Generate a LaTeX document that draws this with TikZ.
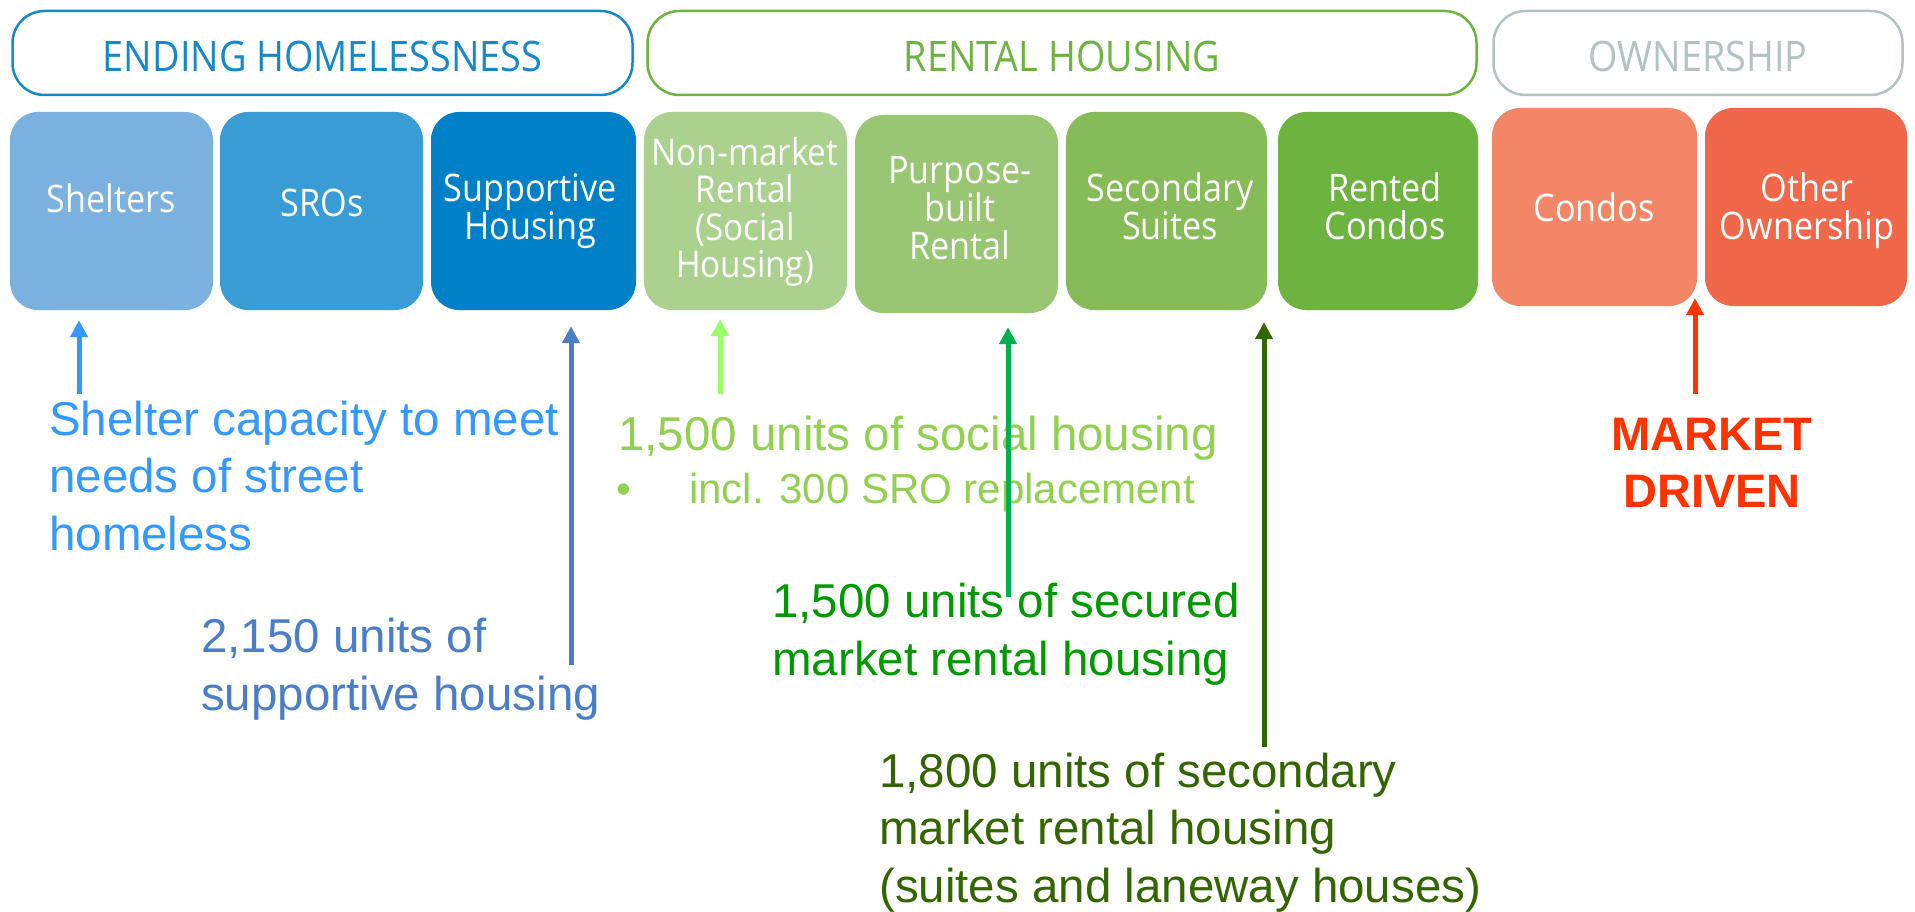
\documentclass[tikz,border=0pt]{standalone}
\usepackage{fontspec}
\setmainfont{Liberation Sans}
\newfontfamily\labelfont[FakeStretch=0.9]{Open Sans}
\usetikzlibrary{arrows.meta}

% group headers
\definecolor{hdBlue}{HTML}{1588CC}
\definecolor{hdGreen}{HTML}{6DB33F}
\definecolor{hdGray}{HTML}{B3C2C4}
% housing type cells
\definecolor{cShelter}{HTML}{7AB1DE}
\definecolor{cSro}{HTML}{3A9CD5}
\definecolor{cSupport}{HTML}{0080C6}
\definecolor{cNonMarket}{HTML}{ABD18F}
\definecolor{cPurpose}{HTML}{98C673}
\definecolor{cSecondary}{HTML}{86BC57}
\definecolor{cRented}{HTML}{6DB33F}
\definecolor{cCondo}{HTML}{F38667}
\definecolor{cOther}{HTML}{F0674A}
% targets and their pointers
\definecolor{tShelter}{HTML}{3399FF}
\definecolor{tSupport}{HTML}{4A7FC8}
\definecolor{aSocial}{HTML}{99FF66}
\definecolor{tSocial}{HTML}{92D050}
\definecolor{aSecured}{HTML}{00B050}
\definecolor{tSecured}{HTML}{009900}
\definecolor{tSecondary}{HTML}{336600}
\definecolor{tMarket}{HTML}{FF3300}

\begin{document}
\begin{tikzpicture}[x=1pt, y=-1pt,
  header/.style={draw, line width=2.5pt, rounded corners=32pt, fill=white,
    inner sep=0pt, minimum height=84pt, text height=38pt, text depth=0pt,
    font=\labelfont\fontsize{42}{42}\selectfont},
  cell/.style={rounded corners=28pt, inner sep=0pt, minimum height=198pt},
  % multi-line texts are placed by the baseline of their last line
  celltext/.style={anchor=base, align=center, text=white, inner sep=0pt,
    font=\labelfont\fontsize{38}{38}\selectfont},
  note/.style={anchor=base west, align=left, inner sep=0pt,
    font=\fontsize{47.5}{57.5}\selectfont},
  pointer/.style={line width=5pt, -{Triangle[width=17pt,length=17pt]}},
]
\useasboundingbox[fill=white] (0,0) rectangle (1915,912);

% ---- group headers ----
\node[header, draw=hdBlue, text=hdBlue, minimum width=620pt] (endHome) at (322.5,53) {ENDING HOMELESSNESS};
\node[header, draw=hdGreen, text=hdGreen, minimum width=829pt] (rental) at (1062,53) {RENTAL HOUSING};
\node[header, draw=hdGray, text=hdGray, minimum width=409pt] (owner) at (1698,53) {OWNERSHIP};

% ---- housing type cells ----
\node[cell, fill=cShelter,   minimum width=203pt] (shelters)  at (111.5,211) {};
\node[cell, fill=cSro,       minimum width=203pt] (sros)      at (321.5,211) {};
\node[cell, fill=cSupport,   minimum width=205pt] (support)   at (533.5,211) {};
\node[cell, fill=cNonMarket, minimum width=203pt] (nonMarket) at (745.5,211) {};
\node[cell, fill=cPurpose,   minimum width=203pt] (purpose)   at (956.5,214) {};
\node[cell, fill=cSecondary, minimum width=201pt] (secondary) at (1166.5,211) {};
\node[cell, fill=cRented,    minimum width=200pt] (rented)    at (1378,211) {};
\node[cell, fill=cCondo,     minimum width=205pt] (condos)    at (1594.5,207) {};
\node[cell, fill=cOther,     minimum width=202pt] (other)     at (1806,207) {};

\node[celltext] (sheltersText)  at (111,213)  {Shelters};
\node[celltext] (srosText)      at (322,217)  {SROs};
\node[celltext] (supportText)   at (530,240)  {Supportive\\Housing};
\node[celltext, font=\labelfont\fontsize{37}{37.5}\selectfont] (nonMarketText) at (745,278) {Non-market\\Rental\\(Social\\Housing)};
\node[celltext] (purposeText)   at (960,260)  {Purpose-\\built\\Rental};
\node[celltext] (secondaryText) at (1170,240) {Secondary\\Suites};
\node[celltext] (rentedText)    at (1385,240) {Rented\\Condos};
\node[celltext] (condosText)    at (1594,222) {Condos};
\node[celltext] (otherText)     at (1807,240) {Other\\Ownership};

% ---- targets ----
\node[note, text=tShelter] (shelterNote) at (49,550)
  {Shelter capacity to meet\\needs of street\\homeless};
\node[note, text=tSupport] (supportNote) at (201,710)
  {2,150 units of\\supportive housing};
\node[note, text=tSocial] (socialNote) at (618,450)
  {1,500 units of social housing};
\node[anchor=base west, inner sep=0pt, text=tSocial,
  font=\fontsize{42}{42}\selectfont] (socialSub) at (616,503)
  {\makebox[73pt][l]{\textbullet}incl. 300 SRO replacement};
\node[note, text=tSecured] (securedNote) at (772,675)
  {1,500 units of secured\\market rental housing};
\node[note, text=tSecondary] (secondaryNote) at (879,902)
  {1,800 units of secondary\\market rental housing\\(suites and laneway houses)};
\node[note, anchor=base, align=center, text=tMarket,
  font=\bfseries\fontsize{47}{57}\selectfont] (marketNote) at (1712,507)
  {MARKET\\DRIVEN};

% ---- pointers from targets up to the cells ----
\coordinate (shelterTail)   at (79,394);
\coordinate (supportTail)   at (571,665);
\coordinate (socialTail)    at (720,394);
\coordinate (securedTail)   at (1008,597);
\coordinate (secondaryTail) at (1264,747);
\coordinate (marketTail)    at (1695,394);

\draw[pointer, tShelter, shorten >=10pt]  (shelterTail) -- (shelterTail |- shelters.south);
\draw[pointer, tSupport, shorten >=16pt]  (supportTail) -- (supportTail |- support.south);
\draw[pointer, aSocial, shorten >=9pt]    (socialTail) -- (socialTail |- nonMarket.south);
\draw[pointer, aSecured, shorten >=14pt]  (securedTail) -- (securedTail |- purpose.south);
\draw[pointer, tSecondary, shorten >=12pt] (secondaryTail) -- (secondaryTail |- secondary.south);
\draw[pointer, tMarket, shorten >=-8pt]   (marketTail) -- (marketTail |- condos.south);
\end{tikzpicture}
\end{document}
